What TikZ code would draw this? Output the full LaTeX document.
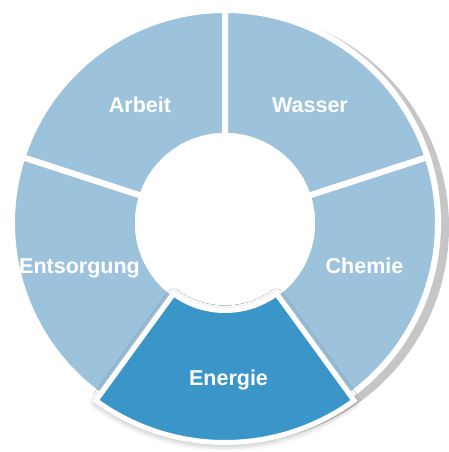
\documentclass[tikz,border=0pt]{standalone}
\usepackage{fontspec}
\setmainfont{Liberation Sans}
\usetikzlibrary{shadows.blur}
\definecolor{paleblue}{HTML}{9DC3DC}
\definecolor{energyblue}{HTML}{3A95C9}

\begin{document}
\begin{tikzpicture}[x=1pt, y=1pt]
\tikzstyle{sector} = [fill=paleblue, draw=white, line width=6pt, line join=miter]
\tikzstyle{topic} = [anchor=base, text=white, inner sep=0pt, font=\fontsize{21.5}{24}\selectfont\bfseries]

\useasboundingbox (-225pt,-229pt) rectangle (224pt,223pt);

% shadow behind the white rim
\fill[gray!45] (8pt,-4pt) circle (216pt);
\fill[white] (0pt,0pt) circle (215pt);

% the four light sectors
\draw[sector] (90:87pt) arc[start angle=90, end angle=162, radius=87pt] -- (162:213pt) arc[start angle=162, end angle=90, radius=213pt] -- cycle;
\draw[sector] (18:87pt) arc[start angle=18, end angle=90, radius=87pt] -- (90:213pt) arc[start angle=90, end angle=18, radius=213pt] -- cycle;
\draw[sector] (-54:87pt) arc[start angle=-54, end angle=18, radius=87pt] -- (18:213pt) arc[start angle=18, end angle=-54, radius=213pt] -- cycle;
\draw[sector] (162:87pt) arc[start angle=162, end angle=234, radius=87pt] -- (234:213pt) arc[start angle=234, end angle=162, radius=213pt] -- cycle;

% hub
\fill[white] (0pt,0pt) circle (90pt);

% highlighted sector
\draw[sector, fill=energyblue, line width=5pt, blur shadow={shadow xshift=0pt, shadow yshift=-2pt, shadow blur radius=7pt, shadow opacity=40}]
  (234:87.5pt) arc[start angle=234, end angle=306, radius=87.5pt] -- (306:219.5pt) arc[start angle=306, end angle=234, radius=219.5pt] -- cycle;

\node (arbeit) [topic] at (-85pt,110pt) {Arbeit};
\node (wasser) [topic] at (85pt,110pt) {Wasser};
\node (chemie) [topic] at (139.5pt,-50pt) {Chemie};
\node (entsorgung) [topic] at (-145.5pt,-50pt) {Entsorgung};
\node (energie) [topic] at (3.5pt,-162pt) {Energie};

\end{tikzpicture}
\end{document}
